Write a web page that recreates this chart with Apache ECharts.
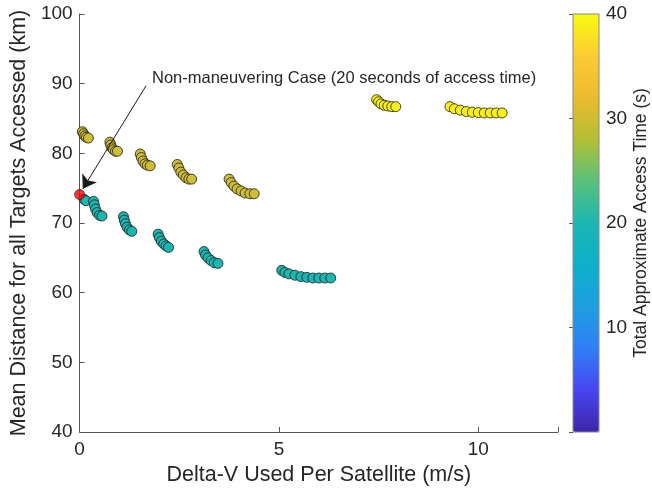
<!DOCTYPE html>
<html>
<head>
<meta charset="utf-8">
<script src="https://cdn.jsdelivr.net/npm/echarts@6/dist/echarts.min.js"></script>
<style>
  html, body { margin: 0; padding: 0; background: #fff; }
  #chart { width: 652px; height: 497px; }
</style>
</head>
<body>
<div id="chart"></div>
<script>
// maneuvering cases: delta-V (m/s), mean distance (km), access time (s)
var deltaV = [
  0.07, 0.10, 0.13, 0.17, 0.22,
  0.76, 0.78, 0.81, 0.85, 0.90, 0.95,
  1.52, 1.55, 1.59, 1.64, 1.70, 1.77,
  2.45, 2.49, 2.54, 2.60, 2.67, 2.74, 2.81,
  3.75, 3.80, 3.87, 3.95, 4.05, 4.15, 4.27, 4.38,
  7.45, 7.50, 7.56, 7.64, 7.73, 7.83, 7.93,
  9.29, 9.40, 9.55, 9.70, 9.85, 10.0, 10.15, 10.3, 10.45, 10.6,
  0.11, 0.16,
  0.35, 0.37, 0.40, 0.44, 0.50, 0.56,
  1.10, 1.12, 1.15, 1.19, 1.25, 1.31,
  1.97, 2.00, 2.05, 2.11, 2.17, 2.23,
  3.12, 3.16, 3.22, 3.30, 3.38, 3.47,
  5.07, 5.15, 5.25, 5.40, 5.55, 5.70, 5.85, 6.00, 6.15, 6.30
]
var meanDist = [
  83.1, 82.8, 82.5, 82.3, 82.2,
  81.6, 81.2, 80.8, 80.5, 80.3, 80.3,
  79.9, 79.4, 78.9, 78.5, 78.3, 78.2,
  78.4, 77.9, 77.3, 76.9, 76.5, 76.3, 76.3,
  76.3, 75.8, 75.3, 74.9, 74.6, 74.3, 74.2, 74.2,
  87.7, 87.4, 87.1, 86.9, 86.8, 86.7, 86.7,
  86.7, 86.4, 86.2, 86.0, 85.9, 85.85, 85.8, 85.8, 85.8, 85.8,
  73.4, 73.2,
  73.1, 72.6, 72.0, 71.5, 71.1, 71.0,
  70.9, 70.4, 69.9, 69.4, 69.0, 68.8,
  68.4, 67.9, 67.4, 67.0, 66.7, 66.5,
  65.9, 65.4, 65.0, 64.6, 64.3, 64.2,
  63.2, 62.9, 62.7, 62.5, 62.3, 62.2, 62.1, 62.1, 62.1, 62.1
]
var accessTime = [
  30, 30, 30, 30, 30,
  30, 30, 30, 30, 30, 30,
  30, 30, 30, 30, 30, 30,
  30, 30, 30, 30, 30, 30, 30,
  30, 30, 30, 30, 30, 30, 30, 30,
  39, 39, 39, 39, 39, 39, 39,
  39, 39, 39, 39, 39, 39, 39, 39, 39, 39,
  20, 20,
  20, 20, 20, 20, 20, 20,
  20, 20, 20, 20, 20, 20,
  20, 20, 20, 20, 20, 20,
  20, 20, 20, 20, 20, 20,
  20, 20, 20, 20, 20, 20, 20, 20, 20, 20
]

// non-maneuvering baseline
var baseDeltaV = [0]
var baseDist = [74.1]

// annotation arrow (axis coordinates)
var arrowFrom = [1.667, 89.7]
var arrowTo = [0.08, 74.9]

var xTicks = [0, 5, 10]
var yTicks = [40, 50, 60, 70, 80, 90, 100]
var cbTicks = [10, 20, 30, 40]

var parula = ['#3e26a8', '#4745f2', '#2f7ff5', '#1f9ee0', '#0cb0cb', '#1cb6b2',
  '#59c17c', '#b2bf36', '#ecba2f', '#fbcb33', '#f9fb0e']

var points = deltaV.map(function(v, i) { return [v, meanDist[i], accessTime[i]] })
var basePoints = baseDeltaV.map(function(v, i) { return [v, baseDist[i]] })

var font = '"Liberation Sans", Arial, sans-serif'
var textColor = '#262626'
var axisColor = '#555'

var chart = echarts.init(document.getElementById('chart'), null, { renderer: 'canvas' })
chart.setOption({
  animation: false,
  backgroundColor: '#fff',
  grid: [
    { left: 79, top: 14, right: 94, bottom: 65 },
    { left: 573, top: 14, width: 26, height: 418, show: true, borderColor: '#888', borderWidth: 1, z: 5 }
  ],
  xAxis: [{
    type: 'value',
    min: 0,
    max: 12,
    interval: 5,
    splitLine: { show: false },
    axisLine: { lineStyle: { color: axisColor, width: 1 } },
    axisTick: { inside: true, length: 5, lineStyle: { color: axisColor } },
    axisLabel: {
      color: textColor, fontSize: 19, fontFamily: font, margin: 8,
      formatter: function(v) { return xTicks.indexOf(v) >= 0 ? String(v) : '' }
    },
    name: 'Delta-V Used Per Satellite (m/s)',
    nameLocation: 'middle',
    nameGap: 19,
    nameTextStyle: { color: textColor, fontSize: 21.5, fontFamily: font }
  }, {
    gridIndex: 1, type: 'value', show: false, min: 0, max: 1
  }],
  yAxis: [{
    type: 'value',
    min: 40,
    max: 100,
    interval: 10,
    splitLine: { show: false },
    axisLine: { show: true, lineStyle: { color: axisColor, width: 1 } },
    axisTick: { show: true, inside: true, length: 5, lineStyle: { color: axisColor } },
    axisLabel: {
      color: textColor, fontSize: 19, fontFamily: font, margin: 7,
      formatter: function(v) { return yTicks.indexOf(v) >= 0 ? String(v) : '' }
    },
    name: 'Mean Distance for all Targets Accessed (km)',
    nameLocation: 'middle',
    nameGap: 43,
    nameTextStyle: { color: textColor, fontSize: 21.5, fontFamily: font }
  }, {
    gridIndex: 1,
    type: 'value',
    position: 'right',
    min: 0,
    max: 40,
    interval: 10,
    splitLine: { show: false },
    axisLine: { show: false },
    axisTick: { show: true, inside: true, length: 4, lineStyle: { color: axisColor } },
    axisLabel: {
      color: textColor, fontSize: 19, fontFamily: font, margin: 7,
      formatter: function(v) { return cbTicks.indexOf(v) >= 0 ? String(v) : '' }
    },
    name: 'Total Approximate Access Time (s)',
    nameLocation: 'middle',
    nameRotate: 90,
    nameGap: 33,
    nameTextStyle: { color: textColor, fontSize: 17.5, fontFamily: font }
  }],
  visualMap: {
    type: 'continuous',
    min: 0,
    max: 40,
    dimension: 2,
    seriesIndex: 0,
    left: 573,
    top: 14,
    padding: 0,
    itemWidth: 26,
    itemHeight: 418,
    calculable: false,
    showLabel: false,
    hoverLink: false,
    text: null,
    inRange: { color: parula }
  },
  graphic: [{
    type: 'text',
    left: 152,
    top: 70,
    style: {
      text: 'Non-maneuvering Case (20 seconds of access time)',
      fill: textColor,
      font: '16.5px ' + font
    }
  }],
  series: [{
    type: 'scatter',
    data: points,
    symbolSize: 10,
    itemStyle: { borderColor: '#1a1a1a', borderWidth: 0.8, opacity: 1 }
  }, {
    type: 'scatter',
    data: basePoints,
    symbolSize: 10,
    itemStyle: { color: '#ff0000', borderColor: '#1a1a1a', borderWidth: 0.8 },
    z: 3
  }, {
    type: 'scatter',
    data: [],
    z: 10,
    markLine: {
      silent: true,
      symbol: ['none', 'arrow'],
      symbolSize: 13,
      label: { show: false },
      lineStyle: { color: '#1a1a1a', width: 1, type: 'solid' },
      itemStyle: { color: '#1a1a1a' },
      data: [[{ coord: arrowFrom }, { coord: arrowTo }]]
    }
  }]
})
</script>
</body>
</html>
